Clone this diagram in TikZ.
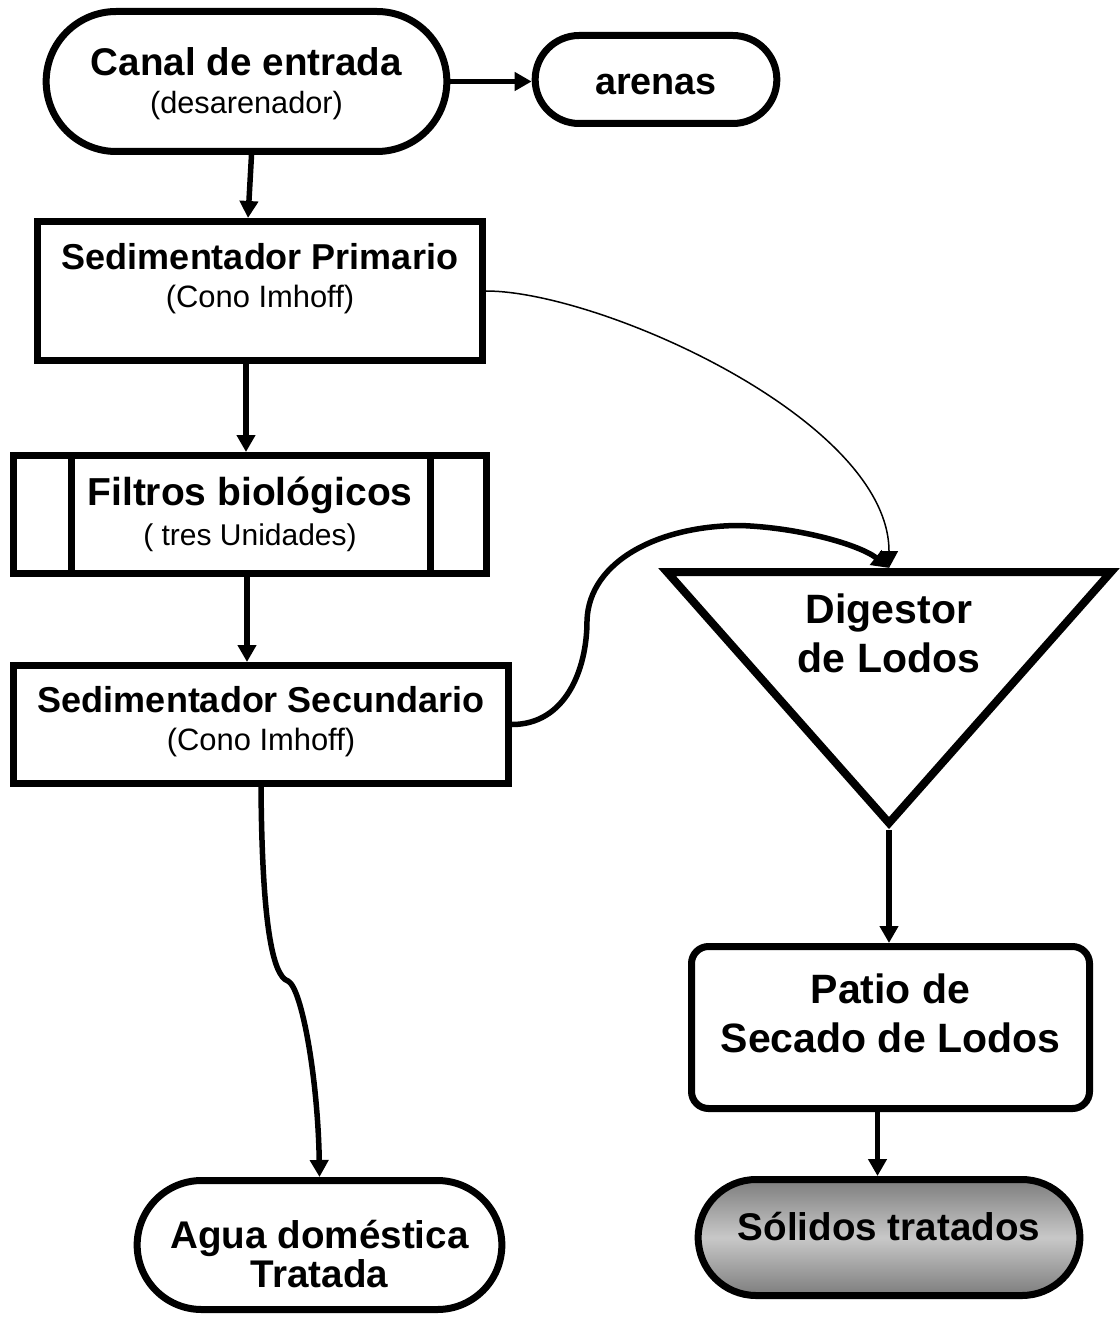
\documentclass[tikz,border=0pt]{standalone}
\usepackage{fontspec}
\setmainfont{Liberation Sans}
\usepackage{xcolor}
\usepackage{tikz}
\usetikzlibrary{positioning,arrows.meta,shapes.misc,calc}

\definecolor{shadedark}{RGB}{125,125,125}
\definecolor{shadelight}{RGB}{200,200,200}
\newcommand{\flowfont}[2]{\fontsize{#1}{#2}\selectfont\bfseries}
\newcommand{\subfont}[1]{\fontsize{#1}{#1}\selectfont\mdseries}

\begin{document}
\begin{tikzpicture}[x=0.5pt,y=-0.5pt,
    box/.style={draw, line width=3.5pt, align=center},
    term/.style={box, rounded rectangle},
    proc/.style={box, rectangle},
    arr/.style={line width=2.75pt, -{Triangle[length=8.5pt,width=9pt]}},
    thinarr/.style={line width=0.75pt, -{Triangle[length=8.5pt,width=9pt]}}]
      \useasboundingbox (0,0) rectangle (1119,1320);
      \node[term, minimum width=207pt, minimum height=70pt, text height=34.5pt, text depth=2pt,
        font=\flowfont{19.3pt}{19pt}] (canal) at (246.5,81.5)
        {Canal de entrada\\ \subfont{15.35pt}(desarenador)};
      \node[term, minimum width=127.5pt, minimum height=44pt, text height=15.5pt, text depth=0pt,
        font=\flowfont{18.9pt}{19pt}] (arenas) at (656,79.5) {arenas};
      \node[proc, minimum width=222.5pt, minimum height=69.5pt, text height=19pt, text depth=2pt,
        font=\flowfont{18pt}{19pt}] (sprim) at (260,291)
        {Sedimentador Primario\\ \subfont{15.45pt}(Cono Imhoff)};
      \node[proc, minimum width=236.5pt, minimum height=59pt, text height=32.5pt, text depth=2pt,
        font=\flowfont{19.5pt}{20pt}] (filtros) at (250,514.5)
        {Filtros biológicos\\ \subfont{15pt}( tres Unidades)};
      \draw[line width=3.5pt] ($(filtros.north west)+(61,0)$) -- ($(filtros.south west)+(61,0)$);
      \draw[line width=3.5pt] ($(filtros.north east)+(-60,0)$) -- ($(filtros.south east)+(-60,0)$);
      \node[proc, minimum width=247.5pt, minimum height=59pt, text height=27.5pt, text depth=2pt,
        font=\flowfont{18pt}{19pt}] (sedsec) at (261,724.5)
        {Sedimentador Secundario\\ \subfont{15.45pt}(Cono Imhoff)};
      \coordinate (digtop) at (889,568);
      \coordinate (digtip) at (889,830);
      \draw[line width=4pt] (667,572) -- (1111,572) -- (889,823) -- cycle;
      \node[align=center, text height=10pt, text depth=10pt, font=\flowfont{20.5pt}{24.5pt}]
        (dig) at (889,672) {Digestor\\de Lodos};
      \node[box, rectangle, rounded corners=8.5pt, minimum width=199pt, minimum height=81pt,
        text height=26.5pt, text depth=2pt, font=\flowfont{20.5pt}{24.5pt}] (patio) at (890.5,1027.5)
        {Patio de\\Secado de Lodos};
      \node[term, top color=shadedark, bottom color=shadedark, middle color=shadelight,
        minimum width=197.5pt, minimum height=58pt, text height=12.5pt, text depth=10pt,
        font=\flowfont{19.3pt}{19pt}] (solidos) at (889,1237.5) {Sólidos tratados};
      \node[term, minimum width=189pt, minimum height=64.5pt, text height=44pt, text depth=2pt,
        font=\flowfont{19.3pt}{19.5pt}] (agua) at (319.5,1245) {Agua doméstica\\Tratada};

      \draw[arr] (canal.east) -- (canal.east -| arenas.west);
      \draw[arr] ([xshift=2.5pt]canal.south) -- ([xshift=-6pt]sprim.north);
      \draw[arr] ([xshift=-7pt]sprim.south) -- ([xshift=-7pt]sprim.south |- filtros.north);
      \draw[arr] ([xshift=-1.5pt]filtros.south) -- ([xshift=-1.5pt]filtros.south |- sedsec.north);
      \draw[thinarr] (sprim.east) .. controls +(114,0) and +(0,-148) .. (digtop);
      \draw[arr] (sedsec.east) .. controls +(53,0) and +(0,50) .. ++(75,-104)
        .. controls +(2,-60) and +(-80,0) .. ++(153,-95)
        .. controls +(60,2) and +(-29,-23) .. (digtop);
      \draw[arr] (sedsec.south) .. controls +(1,133) and +(-16,-5) .. ++(27,194)
        .. controls +(14,7) and +(-1.5,-97) .. (agua.north);
      \draw[arr] (digtip) -- (digtip |- patio.north);
      \draw[arr] ([xshift=-6.5pt]patio.south) -- ([xshift=-6.5pt]patio.south |- solidos.north);
    \end{tikzpicture}
\end{document}
